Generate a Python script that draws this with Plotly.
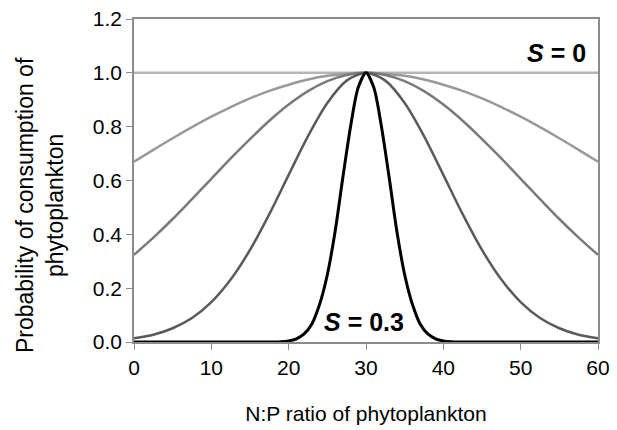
import plotly.graph_objects as go

# N:P ratio positions (x) for the smooth curves
x_np = [0, 2.5, 5, 7.5, 10, 12.5, 15, 17.5, 20, 22.5, 25, 27.5, 30,
        32.5, 35, 37.5, 40, 42.5, 45, 47.5, 50, 52.5, 55, 57.5, 60]

# S = 0 (flat line)
p_s0 = [1.0] * len(x_np)

# intermediate selectivity curves
p_sa = [0.670, 0.714, 0.757, 0.798, 0.837, 0.873, 0.905, 0.933, 0.956, 0.975, 0.989, 0.997, 1.0,
        0.997, 0.989, 0.975, 0.956, 0.933, 0.905, 0.873, 0.837, 0.798, 0.757, 0.714, 0.670]
p_sb = [0.324, 0.388, 0.457, 0.531, 0.606, 0.682, 0.754, 0.822, 0.882, 0.932, 0.969, 0.992, 1.0,
        0.992, 0.969, 0.932, 0.882, 0.822, 0.754, 0.682, 0.606, 0.531, 0.457, 0.388, 0.324]
p_sc = [0.014, 0.027, 0.051, 0.089, 0.148, 0.232, 0.342, 0.475, 0.621, 0.765, 0.888, 0.971, 1.0,
        0.971, 0.888, 0.765, 0.621, 0.475, 0.342, 0.232, 0.148, 0.089, 0.051, 0.027, 0.014]

# S = 0.3 (narrowest curve)
x_s3 = [0, 10, 15, 18, 19, 20, 21, 22, 23, 24, 25, 26, 27, 28, 29, 30,
        31, 32, 33, 34, 35, 36, 37, 38, 39, 40, 41, 42, 45, 50, 60]
p_s3 = [0, 0, 0, 0, 0.001, 0.004, 0.012, 0.03, 0.067, 0.14, 0.25, 0.41, 0.61, 0.80, 0.946, 1.0,
        0.946, 0.80, 0.61, 0.41, 0.25, 0.14, 0.067, 0.03, 0.012, 0.004, 0.001, 0, 0, 0, 0]

x_title = "N:P ratio of phytoplankton"
y_title = "Probability of consumption of<br>phytoplankton"

series = [
    (x_np, p_s0, "#b5b5b5", 2.5),
    (x_np, p_sa, "#999999", 2.5),
    (x_np, p_sb, "#7a7a7a", 2.5),
    (x_np, p_sc, "#5a5a5a", 2.5),
    (x_s3, p_s3, "#000000", 3),
]

fig = go.Figure()
for xs, ys, col, w in series:
    fig.add_trace(go.Scatter(x=xs, y=ys, mode="lines",
                             line=dict(color=col, width=w, shape="spline", smoothing=0.8),
                             showlegend=False, hoverinfo="skip", cliponaxis=False))

font_family = "Liberation Sans, Arial, sans-serif"
fig.update_layout(
    width=609, height=422,
    margin=dict(l=126, r=19, t=11, b=88, autoexpand=False),
    paper_bgcolor="white", plot_bgcolor="white",
    font=dict(family=font_family, color="#000", size=21),
    showlegend=False,
)
fig.update_xaxes(range=[0, 60], dtick=10, tick0=0, showgrid=False, zeroline=False,
                 showline=True, linecolor="#8c8c8c", linewidth=1.5, mirror=True,
                 ticks="outside", ticklen=6, tickcolor="#8c8c8c", automargin=False,
                 tickfont=dict(size=21), ticklabeloverflow="allow",
                 title=dict(text=x_title, font=dict(size=21), standoff=28))
fig.update_yaxes(range=[0, 1.2], dtick=0.2, tick0=0, tickformat=".1f", showgrid=False, zeroline=False,
                 showline=True, linecolor="#8c8c8c", linewidth=1.5, mirror=True,
                 ticks="outside", ticklen=6, tickcolor="#8c8c8c", automargin=False,
                 tickfont=dict(size=21), ticklabeloverflow="allow")

fig.add_annotation(x=-0.2026, y=0.424, xref="paper", yref="paper", text=y_title,
                   textangle=-90, showarrow=False, xanchor="center", yanchor="middle",
                   font=dict(size=23))
fig.add_annotation(x=58.7, y=1.073, xref="x", yref="y", text="<b><i>S</i> = 0</b>",
                   showarrow=False, xanchor="right", yanchor="middle", font=dict(size=25))
fig.add_annotation(x=29.8, y=0.073, xref="x", yref="y", text="<b><i>S</i> = 0.3</b>",
                   showarrow=False, xanchor="center", yanchor="middle", font=dict(size=25))

fig.write_html("out.html")
